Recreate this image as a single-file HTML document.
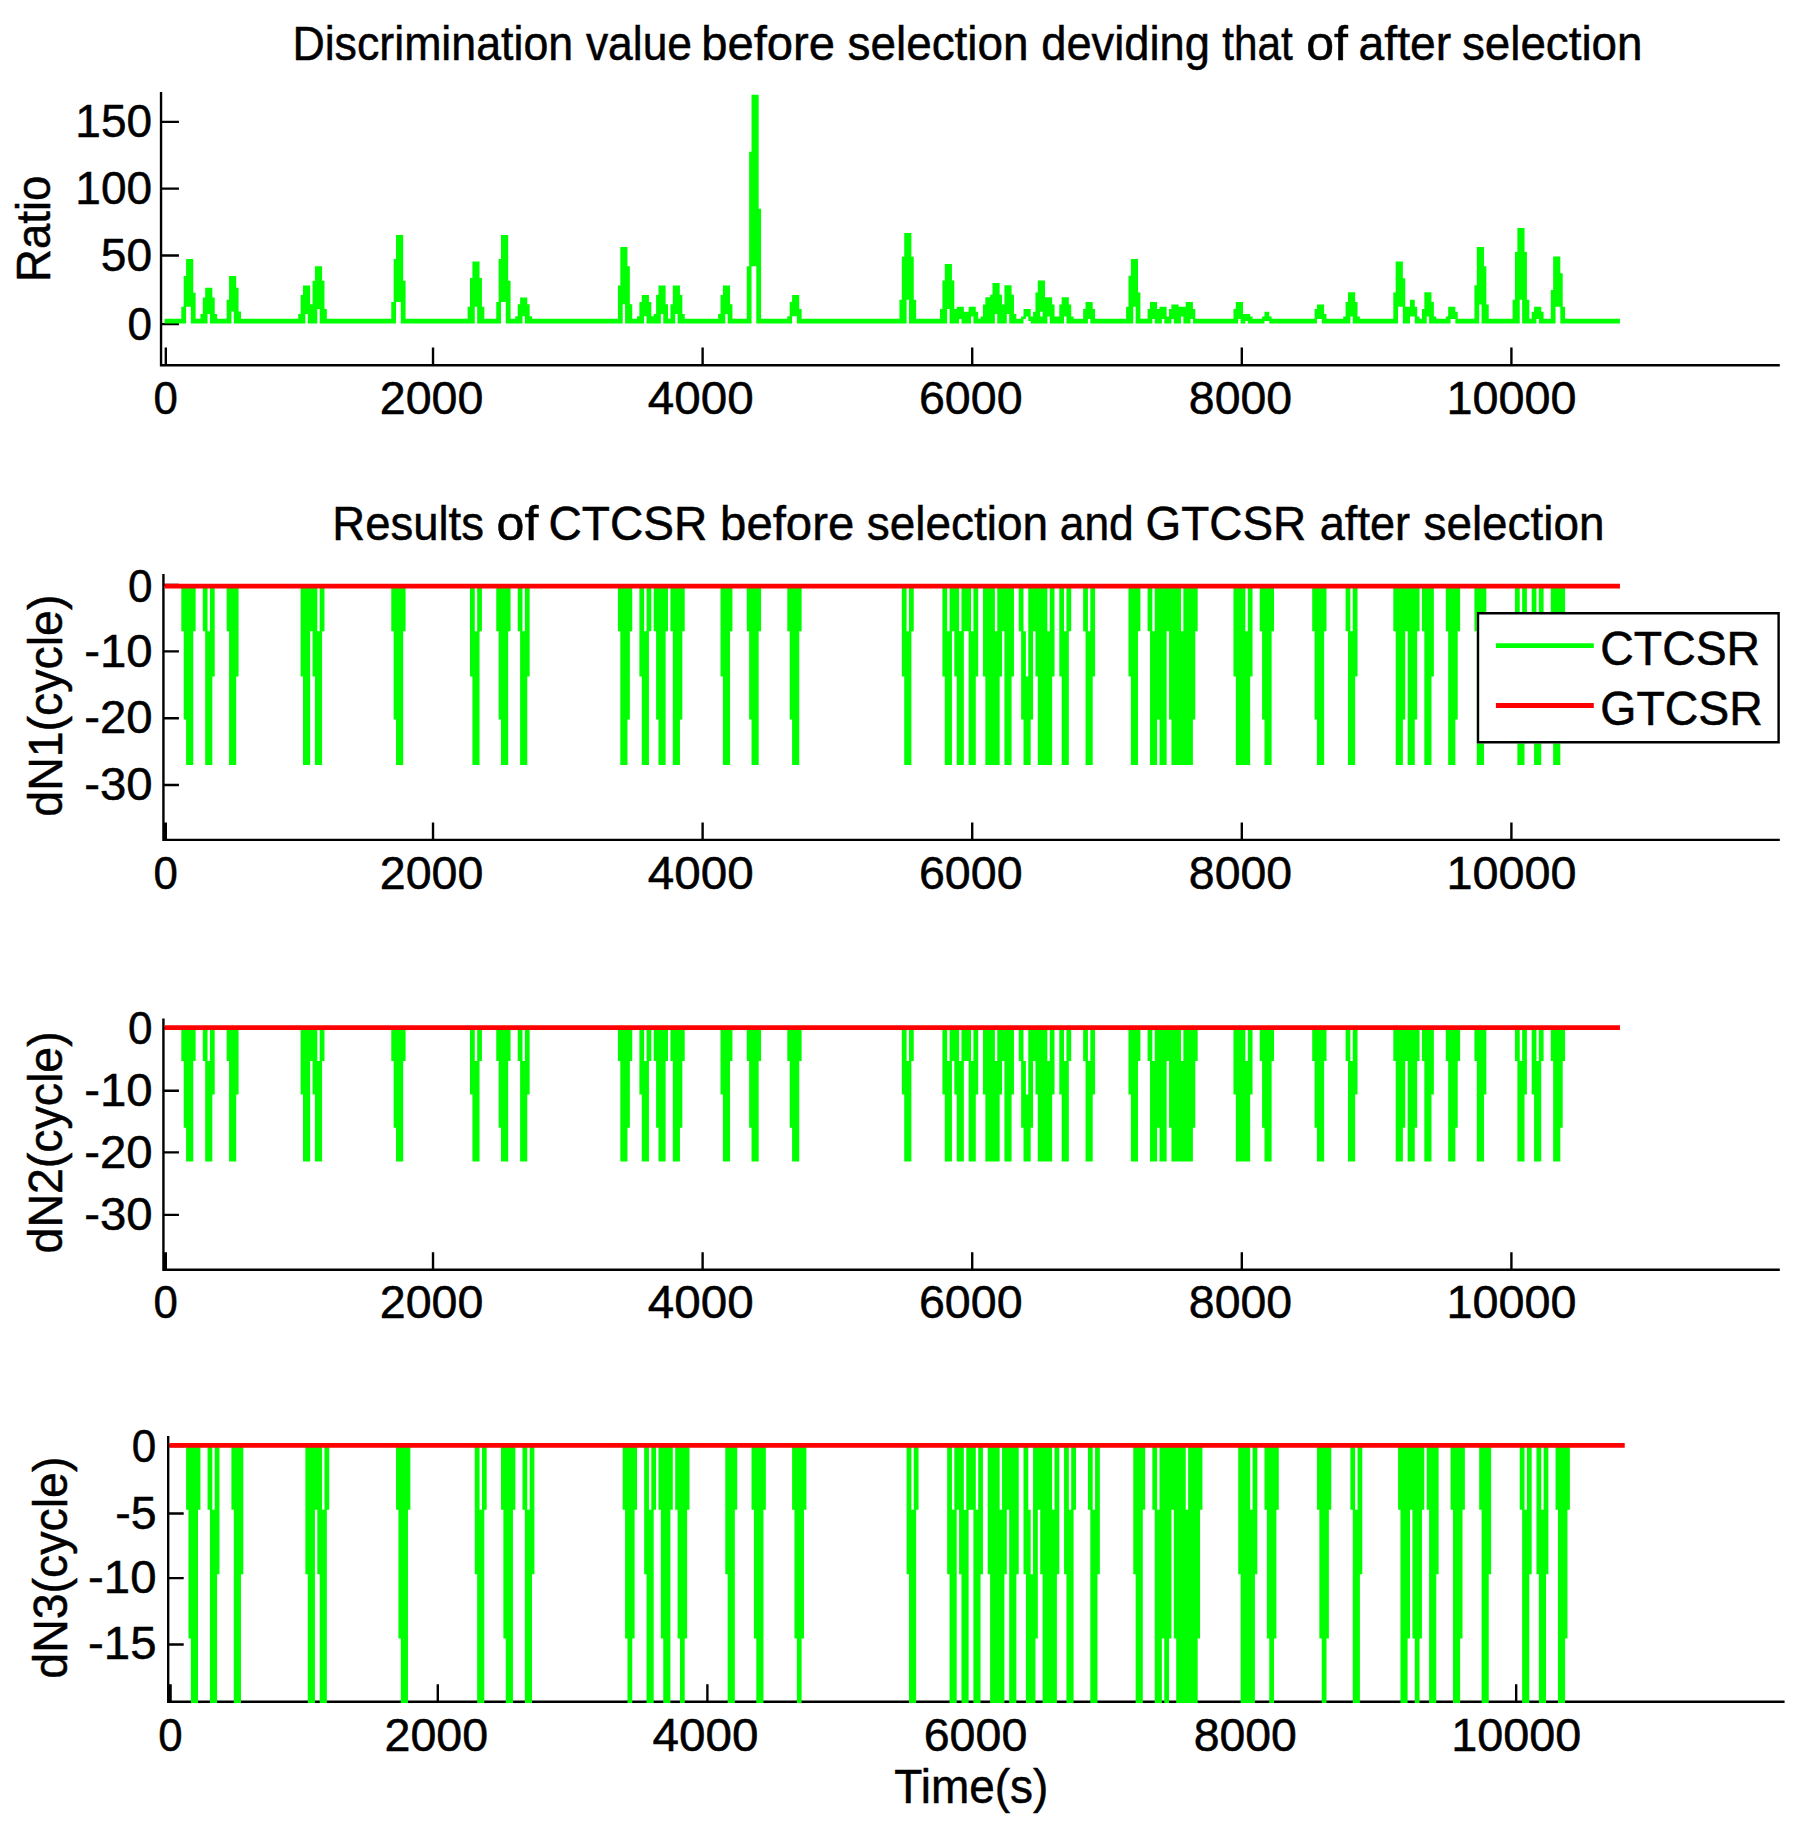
<!DOCTYPE html>
<html><head><meta charset="utf-8"><title>CTCSR vs GTCSR</title>
<style>html,body{margin:0;padding:0;background:#fff;overflow:hidden}svg{display:block}</style></head>
<body>
<svg width="1805" height="1822" viewBox="0 0 1805 1822">
<rect width="1805" height="1822" fill="#fff"/>
<path fill="#000" d="M159.85 92.1H162.23V366.4H159.85ZM159.85 364H1779.81V366.4H159.85ZM162.23 120.7H178.94V123.1H162.23ZM162.23 187.4H178.94V189.8H162.23ZM162.23 254.3H178.94V256.7H162.23ZM162.23 322.9H178.94V325.3H162.23ZM164.62 347.5H167.01V364.5H164.62ZM431.83 347.5H434.22V364.5H431.83ZM701.43 347.5H703.81V364.5H701.43ZM971.02 347.5H973.41V364.5H971.02ZM1240.62 347.5H1243V364.5H1240.62ZM1510.21 347.5H1512.6V364.5H1510.21ZM162.23 574.1H164.62V841.1H162.23ZM162.23 838.7H1779.81V841.1H162.23ZM164.62 583.8H178.94V586.2H164.62ZM164.62 650.2H178.94V652.6H164.62ZM164.62 717.1H178.94V719.5H164.62ZM164.62 783.8H178.94V786.2H164.62ZM164.62 822.6H167.01V839.2H164.62ZM431.83 822.6H434.22V839.2H431.83ZM701.43 822.6H703.81V839.2H701.43ZM971.02 822.6H973.41V839.2H971.02ZM1240.62 822.6H1243V839.2H1240.62ZM1510.21 822.6H1512.6V839.2H1510.21ZM162.23 1018.4H164.62V1271H162.23ZM162.23 1268.5H1779.81V1271H162.23ZM164.62 1026.8H178.94V1029.2H164.62ZM164.62 1089.5H178.94V1091.9H164.62ZM164.62 1151.2H178.94V1153.6H164.62ZM164.62 1213.7H178.94V1216.1H164.62ZM164.62 1252.3H167.01V1269H164.62ZM431.83 1252.3H434.22V1269H431.83ZM701.43 1252.3H703.81V1269H701.43ZM971.02 1252.3H973.41V1269H971.02ZM1240.62 1252.3H1243V1269H1240.62ZM1510.21 1252.3H1512.6V1269H1510.21ZM167.01 1436.1H169.39V1703H167.01ZM167.01 1700.5H1784.58V1703H167.01ZM169.39 1444.8H183.71V1447.2H169.39ZM169.39 1512.3H183.71V1514.7H169.39ZM169.39 1576.9H183.71V1579.3H169.39ZM169.39 1643.3H183.71V1645.7H169.39ZM169.39 1684.2H171.78V1701H169.39ZM436.6 1684.2H438.99V1701H436.6ZM706.2 1684.2H708.58V1701H706.2ZM975.79 1684.2H978.18V1701H975.79ZM1245.39 1684.2H1247.77V1701H1245.39ZM1514.98 1684.2H1517.37V1701H1514.98Z"/>
<path fill="#00ff00" d="M181.32 306.86H183.71V323.6H181.32ZM467.62 306.86H470V323.6H467.62ZM481.93 306.86H484.32V323.6H481.93ZM183.71 276.11H186.09V323.6H183.71ZM229.04 276.11H231.42V323.6H229.04ZM233.81 276.11H236.19V323.6H233.81ZM186.09 258.99H190.86V306.86H186.09ZM190.86 258.99H193.25V323.6H190.86ZM393.66 258.99H396.04V323.6H393.66ZM498.63 258.99H501.02V323.6H498.63ZM193.25 292.73H195.64V323.6H193.25ZM200.41 314H202.79V323.6H200.41ZM214.72 314H217.11V323.6H214.72ZM298.23 314H300.61V323.6H298.23ZM653.71 314H656.1V323.6H653.71ZM682.34 314H684.72V323.6H682.34ZM718.13 314H720.51V323.6H718.13ZM202.79 297.38H205.18V323.6H202.79ZM212.34 297.38H214.72V323.6H212.34ZM520.1 297.38H522.49V323.6H520.1ZM524.88 297.38H527.26V323.6H524.88ZM205.18 287.74H207.56V323.6H205.18ZM209.95 287.74H212.34V323.6H209.95ZM236.19 287.74H238.58V323.6H236.19ZM207.56 287.74H209.95V314H207.56ZM226.65 299.71H229.04V323.6H226.65ZM899.45 299.71H901.83V323.6H899.45ZM913.76 299.71H916.15V323.6H913.76ZM231.42 276.11H233.81V311.51H231.42ZM238.58 311.51H240.97V323.6H238.58ZM300.61 295.06H303V323.6H300.61ZM641.78 295.06H644.17V323.6H641.78ZM646.55 295.06H648.94V323.6H646.55ZM656.1 295.06H658.48V323.6H656.1ZM679.95 295.06H682.34V323.6H679.95ZM720.51 295.06H722.9V323.6H720.51ZM796.86 295.06H799.24V323.6H796.86ZM303 285.42H305.38V323.6H303ZM307.77 285.42H310.15V323.6H307.77ZM617.92 285.42H620.31V323.6H617.92ZM658.48 285.42H660.87V323.6H658.48ZM663.25 285.42H665.64V323.6H663.25ZM672.8 285.42H675.18V323.6H672.8ZM677.57 285.42H679.95V323.6H677.57ZM722.9 285.42H725.28V323.6H722.9ZM727.67 285.42H730.05V323.6H727.67ZM305.38 285.42H307.77V314H305.38ZM660.87 285.42H663.25V314H660.87ZM675.18 285.42H677.57V314H675.18ZM725.28 285.42H727.67V314H725.28ZM310.15 304.36H312.54V323.6H310.15ZM517.72 304.36H520.1V323.6H517.72ZM527.26 304.36H529.65V323.6H527.26ZM629.85 304.36H632.24V323.6H629.85ZM665.64 304.36H668.02V323.6H665.64ZM670.41 304.36H672.8V323.6H670.41ZM730.05 304.36H732.44V323.6H730.05ZM312.54 280.76H314.93V323.6H312.54ZM322.08 280.76H324.47V323.6H322.08ZM403.2 280.76H405.59V323.6H403.2ZM508.18 280.76H510.56V323.6H508.18ZM314.93 266.14H317.31V323.6H314.93ZM319.7 266.14H322.08V323.6H319.7ZM627.47 266.14H629.85V323.6H627.47ZM746.76 266.14H749.14V323.6H746.76ZM317.31 266.14H319.7V309.02H317.31ZM324.47 309.02H326.85V323.6H324.47ZM799.24 309.02H801.63V323.6H799.24ZM391.27 302.04H393.66V323.6H391.27ZM496.25 302.04H498.63V323.6H496.25ZM639.39 302.04H641.78V323.6H639.39ZM648.94 302.04H651.32V323.6H648.94ZM789.7 302.04H792.09V323.6H789.7ZM396.04 235.06H400.81V302.04H396.04ZM501.02 235.06H505.79V302.04H501.02ZM400.81 235.06H403.2V323.6H400.81ZM505.79 235.06H508.18V323.6H505.79ZM470 278.11H472.39V323.6H470ZM479.55 278.11H481.93V323.6H479.55ZM472.39 261.49H474.77V323.6H472.39ZM477.16 261.49H479.55V323.6H477.16ZM474.77 261.49H477.16V306.86H474.77ZM515.33 316.33H517.72V323.6H515.33ZM529.65 316.33H532.03V323.6H529.65ZM637.01 316.33H639.39V323.6H637.01ZM651.32 316.33H653.71V323.6H651.32ZM787.31 316.33H789.7V323.6H787.31ZM522.49 297.38H524.88V316.33H522.49ZM620.31 247.03H622.69V323.6H620.31ZM625.08 247.03H627.47V323.6H625.08ZM622.69 247.03H625.08V304.36H622.69ZM644.17 295.06H646.55V316.33H644.17ZM792.09 295.06H796.86V316.33H792.09ZM749.14 151.8H751.53V323.6H749.14ZM751.53 94.63H756.3V266.14H751.53ZM756.3 94.63H758.68V323.6H756.3ZM758.68 208.8H761.07V323.6H758.68ZM901.83 256.67H904.22V323.6H901.83ZM911.38 256.67H913.76V323.6H911.38ZM904.22 232.9H906.6V323.6H904.22ZM908.99 232.9H911.38V323.6H908.99ZM906.6 232.9H908.99V299.71H906.6ZM940.01 309.12H942.39V323.6H940.01ZM954.32 309.12H956.71V323.6H954.32ZM1083.15 309.12H1085.54V323.6H1083.15ZM1092.7 309.12H1095.08V323.6H1092.7ZM1147.57 309.12H1149.96V323.6H1147.57ZM1157.11 309.12H1159.5V323.6H1157.11ZM1169.04 309.12H1171.43V323.6H1169.04ZM1192.9 309.12H1195.29V323.6H1192.9ZM1233.46 309.12H1235.84V323.6H1233.46ZM1314.58 309.12H1316.96V323.6H1314.58ZM1421.94 309.12H1424.32V323.6H1421.94ZM942.39 280.44H944.78V323.6H942.39ZM951.93 280.44H954.32V323.6H951.93ZM1037.82 280.44H1040.21V323.6H1037.82ZM1042.59 280.44H1044.98V323.6H1042.59ZM944.78 263.91H947.16V323.6H944.78ZM949.55 263.91H951.93V323.6H949.55ZM947.16 263.91H949.55V309.12H947.16ZM956.71 306.87H959.09V323.6H956.71ZM961.48 306.87H963.86V323.6H961.48ZM968.63 306.87H971.02V323.6H968.63ZM973.41 306.87H975.79V323.6H973.41ZM1126.1 306.87H1128.48V323.6H1126.1ZM1159.5 306.87H1161.88V323.6H1159.5ZM1164.27 306.87H1166.66V323.6H1164.27ZM1178.59 306.87H1180.97V323.6H1178.59ZM1183.36 306.87H1185.74V323.6H1183.36ZM1405.24 306.87H1410.01V323.6H1405.24ZM1414.78 306.87H1417.17V323.6H1414.78ZM1448.18 306.87H1450.57V323.6H1448.18ZM1534.07 306.87H1536.46V323.6H1534.07ZM1538.84 306.87H1541.23V323.6H1538.84ZM1562.7 306.87H1565.08V323.6H1562.7ZM959.09 306.87H961.48V318.92H959.09ZM1161.88 306.87H1164.27V318.92H1161.88ZM1450.57 306.87H1455.34V318.92H1450.57ZM1536.46 306.87H1538.84V318.92H1536.46ZM963.86 311.86H968.63V323.6H963.86ZM975.79 311.86H978.18V323.6H975.79ZM1033.05 311.86H1035.44V323.6H1033.05ZM1455.34 311.86H1457.72V323.6H1455.34ZM1531.68 311.86H1534.07V323.6H1531.68ZM1541.23 311.86H1543.61V323.6H1541.23ZM971.02 306.87H973.41V316.43H971.02ZM1180.97 306.87H1183.36V316.43H1180.97ZM980.56 316.43H982.95V323.6H980.56ZM1021.12 316.43H1023.51V323.6H1021.12ZM1030.67 316.43H1033.05V323.6H1030.67ZM1040.21 316.43H1042.59V323.6H1040.21ZM1054.52 316.43H1059.3V323.6H1054.52ZM1071.22 316.43H1073.61V323.6H1071.22ZM1166.66 316.43H1169.04V323.6H1166.66ZM1250.16 316.43H1252.55V323.6H1250.16ZM1262.09 316.43H1264.47V323.6H1262.09ZM1269.25 316.43H1271.63V323.6H1269.25ZM1343.21 316.43H1345.59V323.6H1343.21ZM1357.52 316.43H1359.91V323.6H1357.52ZM1417.17 316.43H1419.55V323.6H1417.17ZM1433.87 316.43H1436.25V323.6H1433.87ZM1445.79 316.43H1448.18V323.6H1445.79ZM982.95 304.38H985.34V323.6H982.95ZM1002.04 304.38H1004.42V323.6H1002.04ZM1052.14 304.38H1054.52V323.6H1052.14ZM1059.3 304.38H1061.68V323.6H1059.3ZM1068.84 304.38H1071.22V323.6H1068.84ZM1173.81 304.38H1178.59V323.6H1173.81ZM1321.73 304.38H1324.12V323.6H1321.73ZM1486.35 304.38H1488.74V323.6H1486.35ZM985.34 297.15H990.11V323.6H985.34ZM1044.98 297.15H1047.37V323.6H1044.98ZM1049.75 297.15H1052.14V323.6H1049.75ZM1061.68 297.15H1064.07V323.6H1061.68ZM1066.45 297.15H1068.84V323.6H1066.45ZM990.11 294.82H992.49V323.6H990.11ZM999.65 294.82H1002.04V323.6H999.65ZM1011.58 294.82H1013.97V323.6H1011.58ZM992.49 282.94H994.88V323.6H992.49ZM997.26 282.94H999.65V323.6H997.26ZM994.88 282.94H997.26V313.94H994.88ZM1004.42 285.26H1006.81V323.6H1004.42ZM1009.19 285.26H1011.58V323.6H1009.19ZM1474.42 285.26H1476.81V323.6H1474.42ZM1006.81 285.26H1009.19V313.94H1006.81ZM1013.97 313.94H1016.35V323.6H1013.97ZM1023.51 309.12H1025.89V318.92H1023.51ZM1025.89 309.12H1028.28V316.43H1025.89ZM1028.28 309.12H1030.67V321H1028.28ZM1035.44 292.49H1037.82V323.6H1035.44ZM1138.03 292.49H1140.41V323.6H1138.03ZM1393.31 292.49H1395.69V323.6H1393.31ZM1040.21 280.44H1042.59V311.86H1040.21ZM1047.37 297.15H1049.75V316.43H1047.37ZM1064.07 297.15H1066.45V316.43H1064.07ZM1085.54 302.05H1087.92V323.6H1085.54ZM1090.31 302.05H1092.7V323.6H1090.31ZM1149.96 302.05H1152.34V323.6H1149.96ZM1154.73 302.05H1157.11V323.6H1154.73ZM1185.74 302.05H1190.51V323.6H1185.74ZM1235.84 302.05H1238.23V323.6H1235.84ZM1240.62 302.05H1243V323.6H1240.62ZM1345.59 302.05H1347.98V323.6H1345.59ZM1355.13 302.05H1357.52V323.6H1355.13ZM1431.48 302.05H1433.87V323.6H1431.48ZM1087.92 302.05H1090.31V318.92H1087.92ZM1152.34 302.05H1154.73V318.92H1152.34ZM1190.51 302.05H1192.9V318.92H1190.51ZM1238.23 302.05H1240.62V318.92H1238.23ZM1128.48 275.87H1130.87V323.6H1128.48ZM1130.87 259.09H1133.26V323.6H1130.87ZM1135.64 259.09H1138.03V323.6H1135.64ZM1133.26 259.09H1135.64V306.87H1133.26ZM1171.43 304.38H1173.81V318.92H1171.43ZM1316.96 304.38H1321.73V318.92H1316.96ZM1243 314.1H1245.39V323.6H1243ZM1247.77 314.1H1250.16V323.6H1247.77ZM1324.12 314.1H1326.5V323.6H1324.12ZM1245.39 314.1H1247.77V321H1245.39ZM1264.47 311.86H1269.25V321H1264.47ZM1347.98 292.33H1350.36V323.6H1347.98ZM1352.75 292.33H1355.13V323.6H1352.75ZM1424.32 292.33H1426.71V323.6H1424.32ZM1429.09 292.33H1431.48V323.6H1429.09ZM1350.36 292.33H1352.75V316.43H1350.36ZM1426.71 292.33H1429.09V316.43H1426.71ZM1395.69 261.41H1398.08V323.6H1395.69ZM1398.08 261.41H1402.85V306.87H1398.08ZM1402.85 278.2H1405.24V323.6H1402.85ZM1410.01 299.64H1414.78V316.43H1410.01ZM1476.81 247.04H1479.2V323.6H1476.81ZM1481.58 247.04H1483.97V323.6H1481.58ZM1479.2 247.04H1481.58V304.38H1479.2ZM1483.97 266.15H1486.35V323.6H1483.97ZM1512.6 299.64H1514.98V323.6H1512.6ZM1526.91 299.64H1529.3V323.6H1526.91ZM1514.98 252.02H1517.37V323.6H1514.98ZM1524.53 252.02H1526.91V323.6H1524.53ZM1517.37 228.09H1519.75V323.6H1517.37ZM1522.14 228.09H1524.53V323.6H1522.14ZM1519.75 228.09H1522.14V299.64H1519.75ZM1550.77 290H1553.16V323.6H1550.77ZM1553.16 256.59H1555.54V323.6H1553.16ZM1555.54 256.59H1560.31V306.87H1555.54ZM1560.31 273.21H1562.7V323.6H1560.31ZM164.62 318.8H181.32V323.6H164.62ZM195.64 318.8H200.41V323.6H195.64ZM217.11 318.8H226.65V323.6H217.11ZM240.97 318.8H298.23V323.6H240.97ZM326.85 318.8H391.27V323.6H326.85ZM405.59 318.8H467.62V323.6H405.59ZM484.32 318.8H496.25V323.6H484.32ZM510.56 318.8H515.33V323.6H510.56ZM532.03 318.8H617.92V323.6H532.03ZM632.24 318.8H637.01V323.6H632.24ZM668.02 318.8H670.41V323.6H668.02ZM684.72 318.8H718.13V323.6H684.72ZM732.44 318.8H746.76V323.6H732.44ZM761.07 318.8H787.31V323.6H761.07ZM801.63 318.8H899.45V323.6H801.63ZM916.15 318.8H940.01V323.6H916.15ZM978.18 318.8H980.56V323.6H978.18ZM1016.35 318.8H1021.12V323.6H1016.35ZM1073.61 318.8H1083.15V323.6H1073.61ZM1095.08 318.8H1126.1V323.6H1095.08ZM1140.41 318.8H1147.57V323.6H1140.41ZM1195.29 318.8H1233.46V323.6H1195.29ZM1252.55 318.8H1262.09V323.6H1252.55ZM1271.63 318.8H1314.58V323.6H1271.63ZM1326.5 318.8H1343.21V323.6H1326.5ZM1359.91 318.8H1393.31V323.6H1359.91ZM1419.55 318.8H1421.94V323.6H1419.55ZM1436.25 318.8H1445.79V323.6H1436.25ZM1457.72 318.8H1474.42V323.6H1457.72ZM1488.74 318.8H1512.6V323.6H1488.74ZM1529.3 318.8H1531.68V323.6H1529.3ZM1543.61 318.8H1550.77V323.6H1543.61ZM1565.08 318.8H1619.96V323.6H1565.08Z"/>
<path fill="#00ff00" d="M181.32 588H183.71V631.3H181.32ZM193.25 588H195.64V631.3H193.25ZM202.79 588H205.18V631.3H202.79ZM226.65 588H229.04V631.3H226.65ZM310.15 588H312.54V631.3H310.15ZM322.08 588H324.47V631.3H322.08ZM391.27 588H393.66V631.3H391.27ZM403.2 588H405.59V631.3H403.2ZM479.55 588H481.93V631.3H479.55ZM496.25 588H498.63V631.3H496.25ZM508.18 588H510.56V631.3H508.18ZM517.72 588H520.1V631.3H517.72ZM617.92 588H620.31V631.3H617.92ZM629.85 588H632.24V631.3H629.85ZM648.94 588H651.32V631.3H648.94ZM653.71 588H656.1V631.3H653.71ZM665.64 588H668.02V631.3H665.64ZM670.41 588H672.8V631.3H670.41ZM682.34 588H684.72V631.3H682.34ZM730.05 588H732.44V631.3H730.05ZM746.76 588H749.14V631.3H746.76ZM758.68 588H761.07V631.3H758.68ZM787.31 588H789.7V631.3H787.31ZM799.24 588H801.63V631.3H799.24ZM911.38 588H913.76V631.3H911.38ZM951.93 588H954.32V631.3H951.93ZM963.86 588H968.63V631.3H963.86ZM1002.04 588H1004.42V631.3H1002.04ZM1018.74 588H1021.12V631.3H1018.74ZM1033.05 588H1035.44V631.3H1033.05ZM1068.84 588H1071.22V631.3H1068.84ZM1083.15 588H1085.54V631.3H1083.15ZM1138.03 588H1140.41V631.3H1138.03ZM1147.57 588H1149.96V631.3H1147.57ZM1166.66 588H1169.04V631.3H1166.66ZM1195.29 588H1197.67V631.3H1195.29ZM1259.7 588H1262.09V631.3H1259.7ZM1271.63 588H1274.02V631.3H1271.63ZM1312.19 588H1314.58V631.3H1312.19ZM1324.12 588H1326.5V631.3H1324.12ZM1345.59 588H1347.98V631.3H1345.59ZM1393.31 588H1395.69V631.3H1393.31ZM1405.24 588H1407.62V631.3H1405.24ZM1417.17 588H1419.55V631.3H1417.17ZM1421.94 588H1424.32V631.3H1421.94ZM1445.79 588H1448.18V631.3H1445.79ZM1457.72 588H1460.11V631.3H1457.72ZM1474.42 588H1476.81V631.3H1474.42ZM1514.98 588H1517.37V631.3H1514.98ZM1541.23 588H1543.61V631.3H1541.23ZM1550.77 588H1553.16V631.3H1550.77ZM1562.7 588H1565.08V631.3H1562.7ZM183.71 588H186.09V719.6H183.71ZM393.66 588H396.04V719.6H393.66ZM498.63 588H501.02V719.6H498.63ZM627.47 588H629.85V719.6H627.47ZM656.1 588H658.48V719.6H656.1ZM679.95 588H682.34V719.6H679.95ZM749.14 588H751.53V719.6H749.14ZM789.7 588H792.09V719.6H789.7ZM1021.12 588H1023.51V719.6H1021.12ZM1030.67 588H1033.05V719.6H1030.67ZM1157.11 588H1159.5V719.6H1157.11ZM1169.04 588H1171.43V719.6H1169.04ZM1192.9 588H1195.29V719.6H1192.9ZM1262.09 588H1264.47V719.6H1262.09ZM1314.58 588H1316.96V719.6H1314.58ZM1402.85 588H1405.24V719.6H1402.85ZM1414.78 588H1417.17V719.6H1414.78ZM1455.34 588H1457.72V719.6H1455.34ZM1560.31 588H1562.7V719.6H1560.31ZM186.09 588H193.25V765H186.09ZM205.18 588H207.56V765H205.18ZM209.95 588H212.34V765H209.95ZM229.04 588H236.19V765H229.04ZM303 588H310.15V765H303ZM314.93 588H317.31V765H314.93ZM319.7 588H322.08V765H319.7ZM396.04 588H403.2V765H396.04ZM472.39 588H474.77V765H472.39ZM477.16 588H479.55V765H477.16ZM501.02 588H508.18V765H501.02ZM520.1 588H522.49V765H520.1ZM524.88 588H527.26V765H524.88ZM620.31 588H627.47V765H620.31ZM641.78 588H644.17V765H641.78ZM646.55 588H648.94V765H646.55ZM658.48 588H665.64V765H658.48ZM672.8 588H679.95V765H672.8ZM722.9 588H730.05V765H722.9ZM751.53 588H758.68V765H751.53ZM792.09 588H799.24V765H792.09ZM904.22 588H906.6V765H904.22ZM908.99 588H911.38V765H908.99ZM944.78 588H947.16V765H944.78ZM949.55 588H951.93V765H949.55ZM956.71 588H959.09V765H956.71ZM961.48 588H963.86V765H961.48ZM968.63 588H971.02V765H968.63ZM973.41 588H975.79V765H973.41ZM985.34 588H994.88V765H985.34ZM997.26 588H999.65V765H997.26ZM1004.42 588H1011.58V765H1004.42ZM1028.28 588H1030.67V765H1028.28ZM1037.82 588H1047.37V765H1037.82ZM1049.75 588H1052.14V765H1049.75ZM1061.68 588H1064.07V765H1061.68ZM1066.45 588H1068.84V765H1066.45ZM1085.54 588H1087.92V765H1085.54ZM1090.31 588H1092.7V765H1090.31ZM1130.87 588H1138.03V765H1130.87ZM1149.96 588H1152.34V765H1149.96ZM1154.73 588H1157.11V765H1154.73ZM1159.5 588H1166.66V765H1159.5ZM1171.43 588H1180.97V765H1171.43ZM1183.36 588H1192.9V765H1183.36ZM1235.84 588H1245.39V765H1235.84ZM1247.77 588H1250.16V765H1247.77ZM1264.47 588H1271.63V765H1264.47ZM1316.96 588H1324.12V765H1316.96ZM1347.98 588H1350.36V765H1347.98ZM1352.75 588H1355.13V765H1352.75ZM1395.69 588H1402.85V765H1395.69ZM1407.62 588H1414.78V765H1407.62ZM1424.32 588H1431.48V765H1424.32ZM1448.18 588H1455.34V765H1448.18ZM1476.81 588H1483.97V765H1476.81ZM1517.37 588H1519.75V765H1517.37ZM1522.14 588H1524.53V765H1522.14ZM1534.07 588H1536.46V765H1534.07ZM1538.84 588H1541.23V765H1538.84ZM1553.16 588H1560.31V765H1553.16ZM207.56 631.3H209.95V765H207.56ZM317.31 631.3H319.7V765H317.31ZM474.77 631.3H477.16V765H474.77ZM522.49 631.3H524.88V765H522.49ZM644.17 631.3H646.55V765H644.17ZM906.6 631.3H908.99V765H906.6ZM947.16 631.3H949.55V765H947.16ZM959.09 631.3H961.48V765H959.09ZM971.02 631.3H973.41V765H971.02ZM994.88 631.3H997.26V765H994.88ZM1023.51 631.3H1025.89V765H1023.51ZM1047.37 631.3H1049.75V765H1047.37ZM1064.07 631.3H1066.45V765H1064.07ZM1087.92 631.3H1090.31V765H1087.92ZM1152.34 631.3H1154.73V765H1152.34ZM1180.97 631.3H1183.36V765H1180.97ZM1245.39 631.3H1247.77V765H1245.39ZM1350.36 631.3H1352.75V765H1350.36ZM1519.75 631.3H1522.14V765H1519.75ZM1536.46 631.3H1538.84V765H1536.46ZM212.34 588H214.72V676.6H212.34ZM236.19 588H238.58V676.6H236.19ZM300.61 588H303V676.6H300.61ZM312.54 588H314.93V676.6H312.54ZM470 588H472.39V676.6H470ZM527.26 588H529.65V676.6H527.26ZM639.39 588H641.78V676.6H639.39ZM720.51 588H722.9V676.6H720.51ZM901.83 588H904.22V676.6H901.83ZM942.39 588H944.78V676.6H942.39ZM954.32 588H956.71V676.6H954.32ZM975.79 588H978.18V676.6H975.79ZM982.95 588H985.34V676.6H982.95ZM999.65 588H1002.04V676.6H999.65ZM1011.58 588H1013.97V676.6H1011.58ZM1035.44 588H1037.82V676.6H1035.44ZM1052.14 588H1054.52V676.6H1052.14ZM1059.3 588H1061.68V676.6H1059.3ZM1092.7 588H1095.08V676.6H1092.7ZM1128.48 588H1130.87V676.6H1128.48ZM1233.46 588H1235.84V676.6H1233.46ZM1250.16 588H1252.55V676.6H1250.16ZM1355.13 588H1357.52V676.6H1355.13ZM1431.48 588H1433.87V676.6H1431.48ZM1483.97 588H1486.35V676.6H1483.97ZM1524.53 588H1526.91V676.6H1524.53ZM1531.68 588H1534.07V676.6H1531.68ZM1025.89 676.6H1028.28V765H1025.89Z"/>
<path fill="#00ff00" d="M181.32 1029.5H183.71V1061.1H181.32ZM193.25 1029.5H195.64V1061.1H193.25ZM202.79 1029.5H205.18V1061.1H202.79ZM226.65 1029.5H229.04V1061.1H226.65ZM310.15 1029.5H312.54V1061.1H310.15ZM322.08 1029.5H324.47V1061.1H322.08ZM391.27 1029.5H393.66V1061.1H391.27ZM403.2 1029.5H405.59V1061.1H403.2ZM479.55 1029.5H481.93V1061.1H479.55ZM496.25 1029.5H498.63V1061.1H496.25ZM508.18 1029.5H510.56V1061.1H508.18ZM517.72 1029.5H520.1V1061.1H517.72ZM617.92 1029.5H620.31V1061.1H617.92ZM629.85 1029.5H632.24V1061.1H629.85ZM648.94 1029.5H651.32V1061.1H648.94ZM653.71 1029.5H656.1V1061.1H653.71ZM665.64 1029.5H668.02V1061.1H665.64ZM670.41 1029.5H672.8V1061.1H670.41ZM682.34 1029.5H684.72V1061.1H682.34ZM730.05 1029.5H732.44V1061.1H730.05ZM746.76 1029.5H749.14V1061.1H746.76ZM758.68 1029.5H761.07V1061.1H758.68ZM787.31 1029.5H789.7V1061.1H787.31ZM799.24 1029.5H801.63V1061.1H799.24ZM911.38 1029.5H913.76V1061.1H911.38ZM951.93 1029.5H954.32V1061.1H951.93ZM963.86 1029.5H968.63V1061.1H963.86ZM1002.04 1029.5H1004.42V1061.1H1002.04ZM1018.74 1029.5H1021.12V1061.1H1018.74ZM1033.05 1029.5H1035.44V1061.1H1033.05ZM1068.84 1029.5H1071.22V1061.1H1068.84ZM1083.15 1029.5H1085.54V1061.1H1083.15ZM1138.03 1029.5H1140.41V1061.1H1138.03ZM1147.57 1029.5H1149.96V1061.1H1147.57ZM1166.66 1029.5H1169.04V1061.1H1166.66ZM1195.29 1029.5H1197.67V1061.1H1195.29ZM1259.7 1029.5H1262.09V1061.1H1259.7ZM1271.63 1029.5H1274.02V1061.1H1271.63ZM1312.19 1029.5H1314.58V1061.1H1312.19ZM1324.12 1029.5H1326.5V1061.1H1324.12ZM1345.59 1029.5H1347.98V1061.1H1345.59ZM1393.31 1029.5H1395.69V1061.1H1393.31ZM1405.24 1029.5H1407.62V1061.1H1405.24ZM1417.17 1029.5H1419.55V1061.1H1417.17ZM1421.94 1029.5H1424.32V1061.1H1421.94ZM1445.79 1029.5H1448.18V1061.1H1445.79ZM1457.72 1029.5H1460.11V1061.1H1457.72ZM1474.42 1029.5H1476.81V1061.1H1474.42ZM1514.98 1029.5H1517.37V1061.1H1514.98ZM1541.23 1029.5H1543.61V1061.1H1541.23ZM1550.77 1029.5H1553.16V1061.1H1550.77ZM1562.7 1029.5H1565.08V1061.1H1562.7ZM183.71 1029.5H186.09V1127.8H183.71ZM393.66 1029.5H396.04V1127.8H393.66ZM498.63 1029.5H501.02V1127.8H498.63ZM627.47 1029.5H629.85V1127.8H627.47ZM656.1 1029.5H658.48V1127.8H656.1ZM679.95 1029.5H682.34V1127.8H679.95ZM749.14 1029.5H751.53V1127.8H749.14ZM789.7 1029.5H792.09V1127.8H789.7ZM1021.12 1029.5H1023.51V1127.8H1021.12ZM1030.67 1029.5H1033.05V1127.8H1030.67ZM1157.11 1029.5H1159.5V1127.8H1157.11ZM1169.04 1029.5H1171.43V1127.8H1169.04ZM1192.9 1029.5H1195.29V1127.8H1192.9ZM1262.09 1029.5H1264.47V1127.8H1262.09ZM1314.58 1029.5H1316.96V1127.8H1314.58ZM1402.85 1029.5H1405.24V1127.8H1402.85ZM1414.78 1029.5H1417.17V1127.8H1414.78ZM1455.34 1029.5H1457.72V1127.8H1455.34ZM1560.31 1029.5H1562.7V1127.8H1560.31ZM186.09 1029.5H193.25V1161.4H186.09ZM205.18 1029.5H207.56V1161.4H205.18ZM209.95 1029.5H212.34V1161.4H209.95ZM229.04 1029.5H236.19V1161.4H229.04ZM303 1029.5H310.15V1161.4H303ZM314.93 1029.5H317.31V1161.4H314.93ZM319.7 1029.5H322.08V1161.4H319.7ZM396.04 1029.5H403.2V1161.4H396.04ZM472.39 1029.5H474.77V1161.4H472.39ZM477.16 1029.5H479.55V1161.4H477.16ZM501.02 1029.5H508.18V1161.4H501.02ZM520.1 1029.5H522.49V1161.4H520.1ZM524.88 1029.5H527.26V1161.4H524.88ZM620.31 1029.5H627.47V1161.4H620.31ZM641.78 1029.5H644.17V1161.4H641.78ZM646.55 1029.5H648.94V1161.4H646.55ZM658.48 1029.5H665.64V1161.4H658.48ZM672.8 1029.5H679.95V1161.4H672.8ZM722.9 1029.5H730.05V1161.4H722.9ZM751.53 1029.5H758.68V1161.4H751.53ZM792.09 1029.5H799.24V1161.4H792.09ZM904.22 1029.5H906.6V1161.4H904.22ZM908.99 1029.5H911.38V1161.4H908.99ZM944.78 1029.5H947.16V1161.4H944.78ZM949.55 1029.5H951.93V1161.4H949.55ZM956.71 1029.5H959.09V1161.4H956.71ZM961.48 1029.5H963.86V1161.4H961.48ZM968.63 1029.5H971.02V1161.4H968.63ZM973.41 1029.5H975.79V1161.4H973.41ZM985.34 1029.5H994.88V1161.4H985.34ZM997.26 1029.5H999.65V1161.4H997.26ZM1004.42 1029.5H1011.58V1161.4H1004.42ZM1028.28 1029.5H1030.67V1161.4H1028.28ZM1037.82 1029.5H1047.37V1161.4H1037.82ZM1049.75 1029.5H1052.14V1161.4H1049.75ZM1061.68 1029.5H1064.07V1161.4H1061.68ZM1066.45 1029.5H1068.84V1161.4H1066.45ZM1085.54 1029.5H1087.92V1161.4H1085.54ZM1090.31 1029.5H1092.7V1161.4H1090.31ZM1130.87 1029.5H1138.03V1161.4H1130.87ZM1149.96 1029.5H1152.34V1161.4H1149.96ZM1154.73 1029.5H1157.11V1161.4H1154.73ZM1159.5 1029.5H1166.66V1161.4H1159.5ZM1171.43 1029.5H1180.97V1161.4H1171.43ZM1183.36 1029.5H1192.9V1161.4H1183.36ZM1235.84 1029.5H1245.39V1161.4H1235.84ZM1247.77 1029.5H1250.16V1161.4H1247.77ZM1264.47 1029.5H1271.63V1161.4H1264.47ZM1316.96 1029.5H1324.12V1161.4H1316.96ZM1347.98 1029.5H1350.36V1161.4H1347.98ZM1352.75 1029.5H1355.13V1161.4H1352.75ZM1395.69 1029.5H1402.85V1161.4H1395.69ZM1407.62 1029.5H1414.78V1161.4H1407.62ZM1424.32 1029.5H1431.48V1161.4H1424.32ZM1448.18 1029.5H1455.34V1161.4H1448.18ZM1476.81 1029.5H1483.97V1161.4H1476.81ZM1517.37 1029.5H1519.75V1161.4H1517.37ZM1522.14 1029.5H1524.53V1161.4H1522.14ZM1534.07 1029.5H1536.46V1161.4H1534.07ZM1538.84 1029.5H1541.23V1161.4H1538.84ZM1553.16 1029.5H1560.31V1161.4H1553.16ZM207.56 1061.1H209.95V1161.4H207.56ZM317.31 1061.1H319.7V1161.4H317.31ZM474.77 1061.1H477.16V1161.4H474.77ZM522.49 1061.1H524.88V1161.4H522.49ZM644.17 1061.1H646.55V1161.4H644.17ZM906.6 1061.1H908.99V1161.4H906.6ZM947.16 1061.1H949.55V1161.4H947.16ZM959.09 1061.1H961.48V1161.4H959.09ZM971.02 1061.1H973.41V1161.4H971.02ZM994.88 1061.1H997.26V1161.4H994.88ZM1023.51 1061.1H1025.89V1161.4H1023.51ZM1047.37 1061.1H1049.75V1161.4H1047.37ZM1064.07 1061.1H1066.45V1161.4H1064.07ZM1087.92 1061.1H1090.31V1161.4H1087.92ZM1152.34 1061.1H1154.73V1161.4H1152.34ZM1180.97 1061.1H1183.36V1161.4H1180.97ZM1245.39 1061.1H1247.77V1161.4H1245.39ZM1350.36 1061.1H1352.75V1161.4H1350.36ZM1519.75 1061.1H1522.14V1161.4H1519.75ZM1536.46 1061.1H1538.84V1161.4H1536.46ZM212.34 1029.5H214.72V1094.5H212.34ZM236.19 1029.5H238.58V1094.5H236.19ZM300.61 1029.5H303V1094.5H300.61ZM312.54 1029.5H314.93V1094.5H312.54ZM470 1029.5H472.39V1094.5H470ZM527.26 1029.5H529.65V1094.5H527.26ZM639.39 1029.5H641.78V1094.5H639.39ZM720.51 1029.5H722.9V1094.5H720.51ZM901.83 1029.5H904.22V1094.5H901.83ZM942.39 1029.5H944.78V1094.5H942.39ZM954.32 1029.5H956.71V1094.5H954.32ZM975.79 1029.5H978.18V1094.5H975.79ZM982.95 1029.5H985.34V1094.5H982.95ZM999.65 1029.5H1002.04V1094.5H999.65ZM1011.58 1029.5H1013.97V1094.5H1011.58ZM1035.44 1029.5H1037.82V1094.5H1035.44ZM1052.14 1029.5H1054.52V1094.5H1052.14ZM1059.3 1029.5H1061.68V1094.5H1059.3ZM1092.7 1029.5H1095.08V1094.5H1092.7ZM1128.48 1029.5H1130.87V1094.5H1128.48ZM1233.46 1029.5H1235.84V1094.5H1233.46ZM1250.16 1029.5H1252.55V1094.5H1250.16ZM1355.13 1029.5H1357.52V1094.5H1355.13ZM1431.48 1029.5H1433.87V1094.5H1431.48ZM1483.97 1029.5H1486.35V1094.5H1483.97ZM1524.53 1029.5H1526.91V1094.5H1524.53ZM1531.68 1029.5H1534.07V1094.5H1531.68ZM1025.89 1094.5H1028.28V1161.4H1025.89Z"/>
<path fill="#00ff00" d="M186.09 1447H188.48V1509.8H186.09ZM198.02 1447H200.41V1509.8H198.02ZM207.56 1447H209.95V1509.8H207.56ZM231.42 1447H233.81V1509.8H231.42ZM314.93 1447H317.31V1509.8H314.93ZM326.85 1447H329.24V1509.8H326.85ZM396.04 1447H398.43V1509.8H396.04ZM407.97 1447H410.36V1509.8H407.97ZM484.32 1447H486.7V1509.8H484.32ZM501.02 1447H503.4V1509.8H501.02ZM512.95 1447H515.33V1509.8H512.95ZM522.49 1447H524.88V1509.8H522.49ZM622.69 1447H625.08V1509.8H622.69ZM634.62 1447H637.01V1509.8H634.62ZM653.71 1447H656.1V1509.8H653.71ZM658.48 1447H660.87V1509.8H658.48ZM670.41 1447H672.8V1509.8H670.41ZM675.18 1447H677.57V1509.8H675.18ZM687.11 1447H689.5V1509.8H687.11ZM734.83 1447H737.21V1509.8H734.83ZM751.53 1447H753.91V1509.8H751.53ZM763.46 1447H765.84V1509.8H763.46ZM792.09 1447H794.47V1509.8H792.09ZM804.01 1447H806.4V1509.8H804.01ZM916.15 1447H918.53V1509.8H916.15ZM956.71 1447H959.09V1509.8H956.71ZM968.63 1447H973.41V1509.8H968.63ZM1006.81 1447H1009.19V1509.8H1006.81ZM1037.82 1447H1040.21V1509.8H1037.82ZM1073.61 1447H1076V1509.8H1073.61ZM1087.92 1447H1090.31V1509.8H1087.92ZM1142.8 1447H1145.18V1509.8H1142.8ZM1152.34 1447H1154.73V1509.8H1152.34ZM1171.43 1447H1173.81V1509.8H1171.43ZM1200.06 1447H1202.44V1509.8H1200.06ZM1264.47 1447H1266.86V1509.8H1264.47ZM1276.4 1447H1278.79V1509.8H1276.4ZM1316.96 1447H1319.35V1509.8H1316.96ZM1328.89 1447H1331.28V1509.8H1328.89ZM1350.36 1447H1352.75V1509.8H1350.36ZM1398.08 1447H1400.46V1509.8H1398.08ZM1410.01 1447H1412.39V1509.8H1410.01ZM1421.94 1447H1424.32V1509.8H1421.94ZM1426.71 1447H1429.09V1509.8H1426.71ZM1450.57 1447H1452.95V1509.8H1450.57ZM1462.5 1447H1464.88V1509.8H1462.5ZM1479.2 1447H1481.58V1509.8H1479.2ZM1519.75 1447H1522.14V1509.8H1519.75ZM1555.54 1447H1557.93V1509.8H1555.54ZM1567.47 1447H1569.86V1509.8H1567.47ZM188.48 1447H190.86V1638.6H188.48ZM398.43 1447H400.81V1638.6H398.43ZM503.4 1447H505.79V1638.6H503.4ZM625.08 1447H627.47V1638.6H625.08ZM632.24 1447H634.62V1638.6H632.24ZM660.87 1447H663.25V1638.6H660.87ZM677.57 1447H679.95V1638.6H677.57ZM684.72 1447H687.11V1638.6H684.72ZM753.91 1447H756.3V1638.6H753.91ZM794.47 1447H796.86V1638.6H794.47ZM801.63 1447H804.01V1638.6H801.63ZM1035.44 1447H1037.82V1638.6H1035.44ZM1161.88 1447H1164.27V1638.6H1161.88ZM1169.04 1447H1171.43V1638.6H1169.04ZM1173.81 1447H1176.2V1638.6H1173.81ZM1197.67 1447H1200.06V1638.6H1197.67ZM1266.86 1447H1269.25V1638.6H1266.86ZM1274.02 1447H1276.4V1638.6H1274.02ZM1319.35 1447H1321.73V1638.6H1319.35ZM1326.5 1447H1328.89V1638.6H1326.5ZM1407.62 1447H1410.01V1638.6H1407.62ZM1412.39 1447H1414.78V1638.6H1412.39ZM1419.55 1447H1421.94V1638.6H1419.55ZM1460.11 1447H1462.5V1638.6H1460.11ZM1565.08 1447H1567.47V1638.6H1565.08ZM190.86 1447H198.02V1703H190.86ZM209.95 1447H212.34V1703H209.95ZM214.72 1447H217.11V1703H214.72ZM233.81 1447H240.97V1703H233.81ZM307.77 1447H314.93V1703H307.77ZM319.7 1447H322.08V1703H319.7ZM324.47 1447H326.85V1703H324.47ZM400.81 1447H407.97V1703H400.81ZM477.16 1447H479.55V1703H477.16ZM481.93 1447H484.32V1703H481.93ZM505.79 1447H512.95V1703H505.79ZM524.88 1447H527.26V1703H524.88ZM529.65 1447H532.03V1703H529.65ZM627.47 1447H632.24V1703H627.47ZM646.55 1447H648.94V1703H646.55ZM651.32 1447H653.71V1703H651.32ZM663.25 1447H670.41V1703H663.25ZM679.95 1447H684.72V1703H679.95ZM727.67 1447H734.83V1703H727.67ZM756.3 1447H763.46V1703H756.3ZM796.86 1447H801.63V1703H796.86ZM908.99 1447H911.38V1703H908.99ZM913.76 1447H916.15V1703H913.76ZM949.55 1447H951.93V1703H949.55ZM954.32 1447H956.71V1703H954.32ZM961.48 1447H963.86V1703H961.48ZM966.25 1447H968.63V1703H966.25ZM973.41 1447H975.79V1703H973.41ZM978.18 1447H980.56V1703H978.18ZM990.11 1447H999.65V1703H990.11ZM1002.04 1447H1004.42V1703H1002.04ZM1009.19 1447H1016.35V1703H1009.19ZM1025.89 1447H1028.28V1703H1025.89ZM1033.05 1447H1035.44V1703H1033.05ZM1042.59 1447H1052.14V1703H1042.59ZM1054.52 1447H1056.91V1703H1054.52ZM1066.45 1447H1068.84V1703H1066.45ZM1071.22 1447H1073.61V1703H1071.22ZM1090.31 1447H1092.7V1703H1090.31ZM1095.08 1447H1097.47V1703H1095.08ZM1135.64 1447H1142.8V1703H1135.64ZM1154.73 1447H1157.11V1703H1154.73ZM1159.5 1447H1161.88V1703H1159.5ZM1164.27 1447H1169.04V1703H1164.27ZM1176.2 1447H1185.74V1703H1176.2ZM1188.13 1447H1197.67V1703H1188.13ZM1240.62 1447H1250.16V1703H1240.62ZM1252.55 1447H1254.93V1703H1252.55ZM1269.25 1447H1274.02V1703H1269.25ZM1321.73 1447H1326.5V1703H1321.73ZM1352.75 1447H1355.13V1703H1352.75ZM1357.52 1447H1359.91V1703H1357.52ZM1400.46 1447H1407.62V1703H1400.46ZM1414.78 1447H1419.55V1703H1414.78ZM1429.09 1447H1436.25V1703H1429.09ZM1452.95 1447H1460.11V1703H1452.95ZM1481.58 1447H1488.74V1703H1481.58ZM1522.14 1447H1524.53V1703H1522.14ZM1526.91 1447H1529.3V1703H1526.91ZM1538.84 1447H1541.23V1703H1538.84ZM1543.61 1447H1546V1703H1543.61ZM1557.93 1447H1565.08V1703H1557.93ZM212.34 1509.8H214.72V1703H212.34ZM322.08 1509.8H324.47V1703H322.08ZM479.55 1509.8H481.93V1703H479.55ZM527.26 1509.8H529.65V1703H527.26ZM648.94 1509.8H651.32V1703H648.94ZM911.38 1509.8H913.76V1703H911.38ZM951.93 1509.8H954.32V1703H951.93ZM963.86 1509.8H966.25V1703H963.86ZM975.79 1509.8H978.18V1703H975.79ZM999.65 1509.8H1002.04V1703H999.65ZM1028.28 1509.8H1030.67V1703H1028.28ZM1052.14 1509.8H1054.52V1703H1052.14ZM1068.84 1509.8H1071.22V1703H1068.84ZM1092.7 1509.8H1095.08V1703H1092.7ZM1157.11 1509.8H1159.5V1703H1157.11ZM1185.74 1509.8H1188.13V1703H1185.74ZM1250.16 1509.8H1252.55V1703H1250.16ZM1355.13 1509.8H1357.52V1703H1355.13ZM1524.53 1509.8H1526.91V1703H1524.53ZM1541.23 1509.8H1543.61V1703H1541.23ZM217.11 1447H219.49V1574.2H217.11ZM240.97 1447H243.35V1574.2H240.97ZM305.38 1447H307.77V1574.2H305.38ZM317.31 1447H319.7V1574.2H317.31ZM474.77 1447H477.16V1574.2H474.77ZM532.03 1447H534.42V1574.2H532.03ZM644.17 1447H646.55V1574.2H644.17ZM725.28 1447H727.67V1574.2H725.28ZM906.6 1447H908.99V1574.2H906.6ZM947.16 1447H949.55V1574.2H947.16ZM959.09 1447H961.48V1574.2H959.09ZM980.56 1447H982.95V1574.2H980.56ZM987.72 1447H990.11V1574.2H987.72ZM1004.42 1447H1006.81V1574.2H1004.42ZM1016.35 1447H1018.74V1574.2H1016.35ZM1023.51 1447H1025.89V1574.2H1023.51ZM1040.21 1447H1042.59V1574.2H1040.21ZM1056.91 1447H1059.3V1574.2H1056.91ZM1064.07 1447H1066.45V1574.2H1064.07ZM1097.47 1447H1099.85V1574.2H1097.47ZM1133.26 1447H1135.64V1574.2H1133.26ZM1238.23 1447H1240.62V1574.2H1238.23ZM1254.93 1447H1257.32V1574.2H1254.93ZM1359.91 1447H1362.29V1574.2H1359.91ZM1436.25 1447H1438.64V1574.2H1436.25ZM1488.74 1447H1491.12V1574.2H1488.74ZM1529.3 1447H1531.68V1574.2H1529.3ZM1536.46 1447H1538.84V1574.2H1536.46ZM1546 1447H1548.38V1574.2H1546ZM1030.67 1574.2H1033.05V1703H1030.67Z"/>
<path fill="#ff0000" d="M164.62 583.7H1619.96V588.5H164.62ZM164.62 1025.2H1619.96V1030H164.62ZM169.39 1443H1624.73V1447.7H169.39Z"/>
<rect x="1476.81" y="612" width="303" height="131.5" fill="#fff"/>
<path fill="#000" d="M1476.81 612H1779.81V614.4H1476.81ZM1476.81 741.1H1779.81V743.5H1476.81ZM1476.81 612H1479.21V743.5H1476.81ZM1777.41 612H1779.81V743.5H1777.41Z"/>
<path fill="#00ff00" d="M1495.9 643.2H1593.8V648.1H1495.9Z"/>
<path fill="#ff0000" d="M1495.9 702.9H1593.8V707.9H1495.9Z"/>
<g font-family="Liberation Sans, Arial, Helvetica, sans-serif" fill="#000" stroke="#000" stroke-width="0.5">
<text x="292.38" y="60.4" font-size="48" textLength="280.74" lengthAdjust="spacingAndGlyphs">Discrimination</text>
<text x="585.92" y="60.4" font-size="48" textLength="106.11" lengthAdjust="spacingAndGlyphs">value</text>
<text x="701.23" y="60.4" font-size="48" textLength="133.82" lengthAdjust="spacingAndGlyphs">before</text>
<text x="847.51" y="60.4" font-size="48" textLength="181.07" lengthAdjust="spacingAndGlyphs">selection</text>
<text x="1041.25" y="60.4" font-size="48" textLength="168.71" lengthAdjust="spacingAndGlyphs">deviding</text>
<text x="1222.22" y="60.4" font-size="48" textLength="70.53" lengthAdjust="spacingAndGlyphs">that</text>
<text x="1306.15" y="60.4" font-size="48" textLength="41.7" lengthAdjust="spacingAndGlyphs">of</text>
<text x="1358.5" y="60.4" font-size="48" textLength="92.69" lengthAdjust="spacingAndGlyphs">after</text>
<text x="1461.91" y="60.4" font-size="48" textLength="180.55" lengthAdjust="spacingAndGlyphs">selection</text>
<text x="332.32" y="540.2" font-size="48" textLength="151.69" lengthAdjust="spacingAndGlyphs">Results</text>
<text x="496.54" y="540.2" font-size="48" textLength="41.8" lengthAdjust="spacingAndGlyphs">of</text>
<text x="548.55" y="540.2" font-size="48" textLength="158.64" lengthAdjust="spacingAndGlyphs">CTCSR</text>
<text x="720.12" y="540.2" font-size="48" textLength="134.13" lengthAdjust="spacingAndGlyphs">before</text>
<text x="866.71" y="540.2" font-size="48" textLength="181.27" lengthAdjust="spacingAndGlyphs">selection</text>
<text x="1059.79" y="540.2" font-size="48" textLength="74.02" lengthAdjust="spacingAndGlyphs">and</text>
<text x="1145.56" y="540.2" font-size="48" textLength="160.61" lengthAdjust="spacingAndGlyphs">GTCSR</text>
<text x="1319.75" y="540.2" font-size="48" textLength="90.32" lengthAdjust="spacingAndGlyphs">after</text>
<text x="1423.51" y="540.2" font-size="48" textLength="180.96" lengthAdjust="spacingAndGlyphs">selection</text>
<text x="153.55" y="413.6" font-size="46.5" textLength="24.38" lengthAdjust="spacingAndGlyphs">0</text>
<text x="379.74" y="413.6" font-size="46.5" textLength="103.63" lengthAdjust="spacingAndGlyphs">2000</text>
<text x="647.72" y="413.6" font-size="46.5" textLength="105.99" lengthAdjust="spacingAndGlyphs">4000</text>
<text x="918.93" y="413.6" font-size="46.5" textLength="103.63" lengthAdjust="spacingAndGlyphs">6000</text>
<text x="1188.86" y="413.6" font-size="46.5" textLength="103.29" lengthAdjust="spacingAndGlyphs">8000</text>
<text x="1446.5" y="413.6" font-size="46.5" textLength="130.02" lengthAdjust="spacingAndGlyphs">10000</text>
<text x="153.55" y="888.6" font-size="46.5" textLength="24.38" lengthAdjust="spacingAndGlyphs">0</text>
<text x="379.74" y="888.6" font-size="46.5" textLength="103.63" lengthAdjust="spacingAndGlyphs">2000</text>
<text x="647.72" y="888.6" font-size="46.5" textLength="105.99" lengthAdjust="spacingAndGlyphs">4000</text>
<text x="918.93" y="888.6" font-size="46.5" textLength="103.63" lengthAdjust="spacingAndGlyphs">6000</text>
<text x="1188.86" y="888.6" font-size="46.5" textLength="103.29" lengthAdjust="spacingAndGlyphs">8000</text>
<text x="1446.5" y="888.6" font-size="46.5" textLength="130.02" lengthAdjust="spacingAndGlyphs">10000</text>
<text x="153.55" y="1317.9" font-size="46.5" textLength="24.38" lengthAdjust="spacingAndGlyphs">0</text>
<text x="379.74" y="1317.9" font-size="46.5" textLength="103.63" lengthAdjust="spacingAndGlyphs">2000</text>
<text x="647.72" y="1317.9" font-size="46.5" textLength="105.99" lengthAdjust="spacingAndGlyphs">4000</text>
<text x="918.93" y="1317.9" font-size="46.5" textLength="103.63" lengthAdjust="spacingAndGlyphs">6000</text>
<text x="1188.86" y="1317.9" font-size="46.5" textLength="103.29" lengthAdjust="spacingAndGlyphs">8000</text>
<text x="1446.5" y="1317.9" font-size="46.5" textLength="130.02" lengthAdjust="spacingAndGlyphs">10000</text>
<text x="158.32" y="1750.6" font-size="46.5" textLength="24.38" lengthAdjust="spacingAndGlyphs">0</text>
<text x="384.52" y="1750.6" font-size="46.5" textLength="103.63" lengthAdjust="spacingAndGlyphs">2000</text>
<text x="652.49" y="1750.6" font-size="46.5" textLength="105.99" lengthAdjust="spacingAndGlyphs">4000</text>
<text x="923.71" y="1750.6" font-size="46.5" textLength="103.63" lengthAdjust="spacingAndGlyphs">6000</text>
<text x="1193.63" y="1750.6" font-size="46.5" textLength="103.29" lengthAdjust="spacingAndGlyphs">8000</text>
<text x="1451.27" y="1750.6" font-size="46.5" textLength="130.02" lengthAdjust="spacingAndGlyphs">10000</text>
<text x="75.35" y="137" font-size="46.5" textLength="76.77" lengthAdjust="spacingAndGlyphs">150</text>
<text x="75.35" y="203.7" font-size="46.5" textLength="76.77" lengthAdjust="spacingAndGlyphs">100</text>
<text x="100.8" y="270.6" font-size="46.5" textLength="51.31" lengthAdjust="spacingAndGlyphs">50</text>
<text x="127.53" y="339.8" font-size="46.5" textLength="24.5" lengthAdjust="spacingAndGlyphs">0</text>
<text x="127.93" y="601.6" font-size="46.5" textLength="24.5" lengthAdjust="spacingAndGlyphs">0</text>
<text x="84.17" y="666.5" font-size="46.5" textLength="68.4" lengthAdjust="spacingAndGlyphs">-10</text>
<text x="84.17" y="733.4" font-size="46.5" textLength="68.4" lengthAdjust="spacingAndGlyphs">-20</text>
<text x="84.17" y="800.1" font-size="46.5" textLength="68.4" lengthAdjust="spacingAndGlyphs">-30</text>
<text x="127.93" y="1043.5" font-size="46.5" textLength="24.5" lengthAdjust="spacingAndGlyphs">0</text>
<text x="84.17" y="1105.8" font-size="46.5" textLength="68.4" lengthAdjust="spacingAndGlyphs">-10</text>
<text x="84.17" y="1167.5" font-size="46.5" textLength="68.4" lengthAdjust="spacingAndGlyphs">-20</text>
<text x="84.17" y="1229.7" font-size="46.5" textLength="68.4" lengthAdjust="spacingAndGlyphs">-30</text>
<text x="131.83" y="1461.5" font-size="46.5" textLength="24.5" lengthAdjust="spacingAndGlyphs">0</text>
<text x="115.2" y="1528.6" font-size="46.5" textLength="41.36" lengthAdjust="spacingAndGlyphs">-5</text>
<text x="88.07" y="1593.2" font-size="46.5" textLength="68.4" lengthAdjust="spacingAndGlyphs">-10</text>
<text x="88.06" y="1659.1" font-size="46.5" textLength="68.55" lengthAdjust="spacingAndGlyphs">-15</text>
<text x="50.4" y="281.98" font-size="49" textLength="106.32" lengthAdjust="spacingAndGlyphs" transform="rotate(-90 50.4 281.98)">Ratio</text>
<text x="61.8" y="816.7" font-size="49" textLength="222.13" lengthAdjust="spacingAndGlyphs" transform="rotate(-90 61.8 816.7)">dN1(cycle)</text>
<text x="61.8" y="1253.4" font-size="49" textLength="222.02" lengthAdjust="spacingAndGlyphs" transform="rotate(-90 61.8 1253.4)">dN2(cycle)</text>
<text x="67.5" y="1678.7" font-size="49" textLength="222.13" lengthAdjust="spacingAndGlyphs" transform="rotate(-90 67.5 1678.7)">dN3(cycle)</text>
<text x="894.34" y="1803" font-size="48" textLength="153.96" lengthAdjust="spacingAndGlyphs">Time(s)</text>
<text x="1600.33" y="665.1" font-size="48" textLength="159.77" lengthAdjust="spacingAndGlyphs">CTCSR</text>
<text x="1600.33" y="724.8" font-size="48" textLength="162.56" lengthAdjust="spacingAndGlyphs">GTCSR</text>
</g>
</svg>
</body></html>
